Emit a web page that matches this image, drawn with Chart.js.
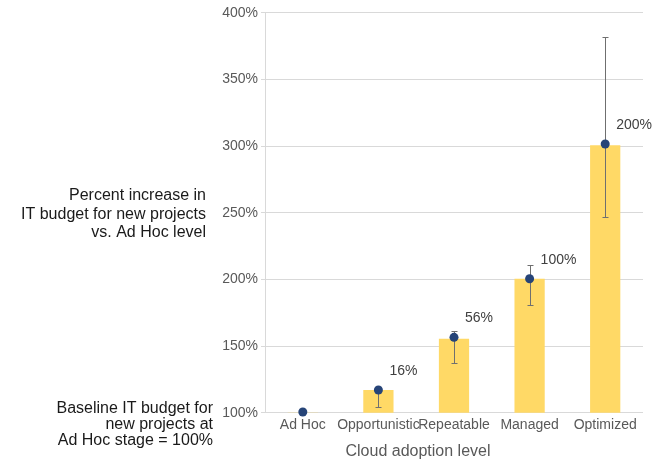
<!DOCTYPE html>
<html>
<head>
<meta charset="utf-8">
<script src="https://cdn.jsdelivr.net/npm/chart.js@4.4.0/dist/chart.umd.min.js"></script>
<style>
html,body{margin:0;padding:0;background:#fff;}
#wrap{width:665px;height:461px;}
</style>
</head>
<body>
<div id="wrap"><canvas id="c" width="665" height="461"></canvas></div>
<script>
const categories = ['Ad Hoc', 'Opportunistic', 'Repeatable', 'Managed', 'Optimized'];
const barValues = [100, 117, 155.5, 200.5, 300.5];
const pointValues = [100.5, 117, 156.5, 200.5, 301.5];
const errLow = [null, 104.5, 137.5, 180.5, 247];
const errHigh = [null, 118, 161, 210.5, 382];
const pointLabels = ['', '16%', '56%', '100%', '200%'];
const yTicks = [100, 150, 200, 250, 300, 350, 400];
const axisTitle = 'Cloud adoption level';
const noteTop = ['Percent increase in', 'IT budget for new projects', 'vs. Ad Hoc level'];
const noteBottom = ['Baseline IT budget for', 'new projects at', 'Ad Hoc stage = 100%'];

const FONT = "'Liberation Sans', Arial, sans-serif";

const extras = {
  id: 'extras',
  afterDatasetDraw(chart, args) {
    if (args.meta.type !== 'bar') return;
    const ctx = chart.ctx, x = chart.scales.x, y = chart.scales.y;
    ctx.save();
    ctx.strokeStyle = '#6f6f6f';
    ctx.lineWidth = 1;
    categories.forEach((c, i) => {
      if (errLow[i] == null) return;
      const px = Math.round(x.getPixelForValue(i)) + 0.5;
      const y1 = Math.round(y.getPixelForValue(errLow[i])) + 0.5;
      const y2 = Math.round(y.getPixelForValue(errHigh[i])) + 0.5;
      ctx.beginPath();
      ctx.moveTo(px, y1); ctx.lineTo(px, y2);
      ctx.moveTo(px - 3, y1); ctx.lineTo(px + 3, y1);
      ctx.moveTo(px - 3, y2); ctx.lineTo(px + 3, y2);
      ctx.stroke();
    });
    ctx.restore();
  },
  afterDraw(chart) {
    const ctx = chart.ctx, x = chart.scales.x, y = chart.scales.y;
    ctx.save();
    ctx.font = '14px ' + FONT;
    ctx.fillStyle = '#404040';
    ctx.textAlign = 'left';
    ctx.textBaseline = 'middle';
    pointLabels.forEach((t, i) => {
      if (!t) return;
      ctx.fillText(t, x.getPixelForValue(i) + 11, y.getPixelForValue(pointValues[i]) - 19);
    });
    ctx.font = '16px ' + FONT;
    ctx.fillStyle = '#595959';
    ctx.textAlign = 'center';
    ctx.fillText(axisTitle, 418, 452);
    ctx.fillStyle = '#1a1a1a';
    ctx.textAlign = 'right';
    noteTop.forEach((t, i) => ctx.fillText(t, 206, 196 + i * 18.5));
    noteBottom.forEach((t, i) => ctx.fillText(t, 213, 409 + i * 16));
    ctx.restore();
  }
};

new Chart(document.getElementById('c'), {
  data: {
    labels: categories,
    datasets: [
      {
        type: 'line',
        data: pointValues,
        showLine: false,
        clip: false,
        pointRadius: 4.5,
        pointHoverRadius: 4.5,
        pointBackgroundColor: '#264478',
        pointBorderColor: '#264478',
        pointBorderWidth: 0,
        order: 0
      },
      {
        type: 'bar',
        data: barValues,
        backgroundColor: '#FFD966',
        borderWidth: 0,
        barPercentage: 0.4,
        categoryPercentage: 1,
        order: 1
      }
    ]
  },
  options: {
    responsive: false,
    animation: false,
    events: [],
    layout: { padding: { left: 0, right: 22, top: 12.7, bottom: 0 } },
    plugins: { legend: { display: false }, tooltip: { enabled: false } },
    scales: {
      x: {
        afterFit(s) { s.height = 48.3; },
        grid: { display: false, drawTicks: false },
        border: { display: false },
        ticks: { color: '#595959', font: { family: FONT, size: 14 }, padding: 4, maxRotation: 0, autoSkip: false }
      },
      y: {
        min: 100, max: 400,
        afterFit(s) { s.width = 265; },
        afterBuildTicks(s) { s.ticks = yTicks.map(v => ({ value: v })); },
        grid: { color: '#d9d9d9', tickLength: 4, lineWidth: 1 },
        border: { color: '#d9d9d9' },
        ticks: { color: '#595959', font: { family: FONT, size: 14 }, padding: 3, callback: v => v + '%' }
      }
    }
  },
  plugins: [extras]
});
</script>
</body>
</html>
